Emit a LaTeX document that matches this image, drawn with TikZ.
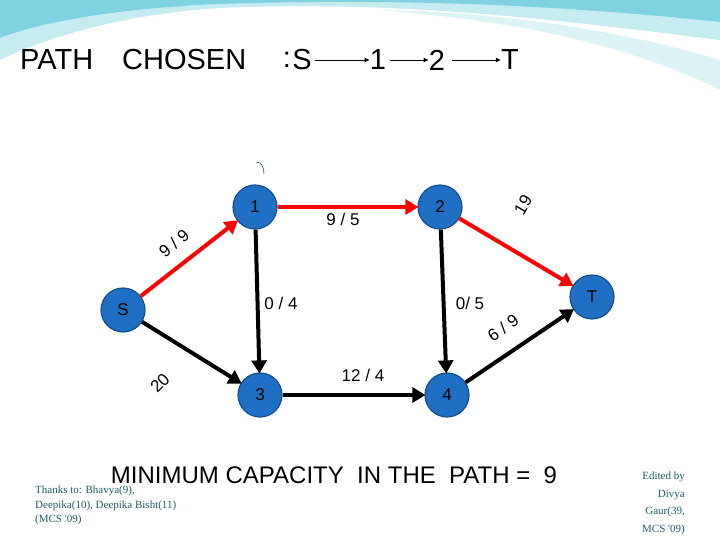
\documentclass[tikz,border=0pt]{standalone}
\usepackage{fontspec}
\setmainfont{Liberation Sans}
\newfontfamily\credit{Liberation Serif}
\usetikzlibrary{arrows.meta}
\definecolor{nodeblue}{HTML}{1F6FC5}
\definecolor{nodeedge}{HTML}{1A4E8A}
\definecolor{credteal}{HTML}{1E5E68}
\definecolor{wave1}{HTML}{7FD3E0}
\definecolor{wave2}{HTML}{C6ECF2}
\begin{document}
\begin{tikzpicture}[x=1pt,y=-1pt,
  vert/.style={circle,fill=nodeblue,draw=nodeedge,line width=1.2pt,minimum size=44pt,inner sep=0pt,font=\fontsize{17}{17}\selectfont},
  redarc/.style={red,line width=4pt,-{Triangle[length=13pt,width=15pt]},shorten >=-1pt},
  blkarc/.style={black,line width=4pt,-{Triangle[length=13pt,width=15pt]},shorten >=-1pt},
  lab/.style={font=\fontsize{17}{17}\selectfont,inner sep=1pt},
  ttl/.style={font=\fontsize{29}{29}\selectfont,inner sep=0pt},
  tarr/.style={line width=0.9pt,-{Latex[length=5pt,width=5pt]}}]
\useasboundingbox (0,0) rectangle (720,540);
\fill[white] (0,0) rectangle (720,540);
% top decoration
\fill[wave2] (0,0) -- (720,0) -- (720,40) .. controls (560,20) and (400,0) .. (220,8) .. controls (120,14) and (40,40) .. (0,60) -- cycle;
\fill[wave1] (0,0) -- (720,0) -- (720,22) .. controls (560,5) and (400,-2) .. (220,4) .. controls (120,8) and (40,22) .. (0,38) -- cycle;
\fill[wave2!60] (380,10) .. controls (500,20) and (620,40) .. (720,90) -- (720,60) .. controls (620,30) and (500,12) .. (380,10) -- cycle;
% title
\node[ttl,anchor=west] (tpath) at (20,60) {PATH};
\node[ttl,anchor=west] (tchosen) at (122,60) {CHOSEN};
\node[ttl] (tcolon) at (287,60) {:};
\node[ttl] (tS) at (302,60) {S};
\node[ttl] (t1) at (378,60) {1};
\node[ttl] (t2) at (437,60) {2};
\node[ttl] (tT) at (510,60) {T};
\coordinate (a1) at (390,60);
\coordinate (a2) at (452,60);
\draw[tarr] (tS.east) ++(3,0) -- (t1.west);
\draw[tarr] (a1) -- (t2.west);
\draw[tarr] (a2) -- (tT.west);
% small mark
\draw[nodeedge,line width=0.6pt] (256,162) .. controls (262,162) and (264,168) .. (264,174);
% nodes
\node[vert] (S) at (123,310) {S};
\node[vert] (n1) at (255,207) {1};
\node[vert] (n2) at (440,207) {2};
\node[vert] (T) at (592,297) {T};
\node[vert] (n3) at (260,395) {3};
\node[vert] (n4) at (447,395) {4};
% edges
\draw[redarc] (S) -- (n1);
\draw[redarc] (n1) -- (n2);
\draw[redarc] (n2) -- (T);
\draw[blkarc] (n1) -- (n3);
\draw[blkarc] (n2) -- (n4);
\draw[blkarc] (S) -- (n3);
\draw[blkarc] (n3) -- (n4);
\draw[blkarc] (n4) -- (T);
% labels
\node[lab,rotate=40] (l1) at (174,243) {9 / 9};
\node[lab] (l2) at (343,219) {9 / 5};
\node[lab,rotate=60] (l3) at (523,205) {19};
\node[lab] (l4) at (281,303) {0 / 4};
\node[lab] (l5) at (470,303) {0/ 5};
\node[lab,rotate=35] (l6) at (503,328) {6 / 9};
\node[lab] (l7) at (363,375) {12 / 4};
\node[lab,rotate=45] (l8) at (160,383) {20};
% bottom
\node[font=\fontsize{24}{24}\selectfont,inner sep=0pt] (minc) at (334,475) {MINIMUM CAPACITY\ \ IN THE\ \ PATH =\ \ 9};
\node[anchor=north west,align=left,text=credteal,font=\credit\fontsize{11}{14.5}\selectfont,inner sep=0pt] (thanks) at (35,486) {Thanks to: Bhavya(9),\\Deepika(10), Deepika Bisht(11)\\(MCS '09)};
\node[anchor=north east,align=right,text=credteal,font=\credit\fontsize{11}{17.5}\selectfont,inner sep=0pt] (edited) at (685,472) {Edited by\\Divya\\Gaur(39,\\MCS '09)};
\end{tikzpicture}
\end{document}
